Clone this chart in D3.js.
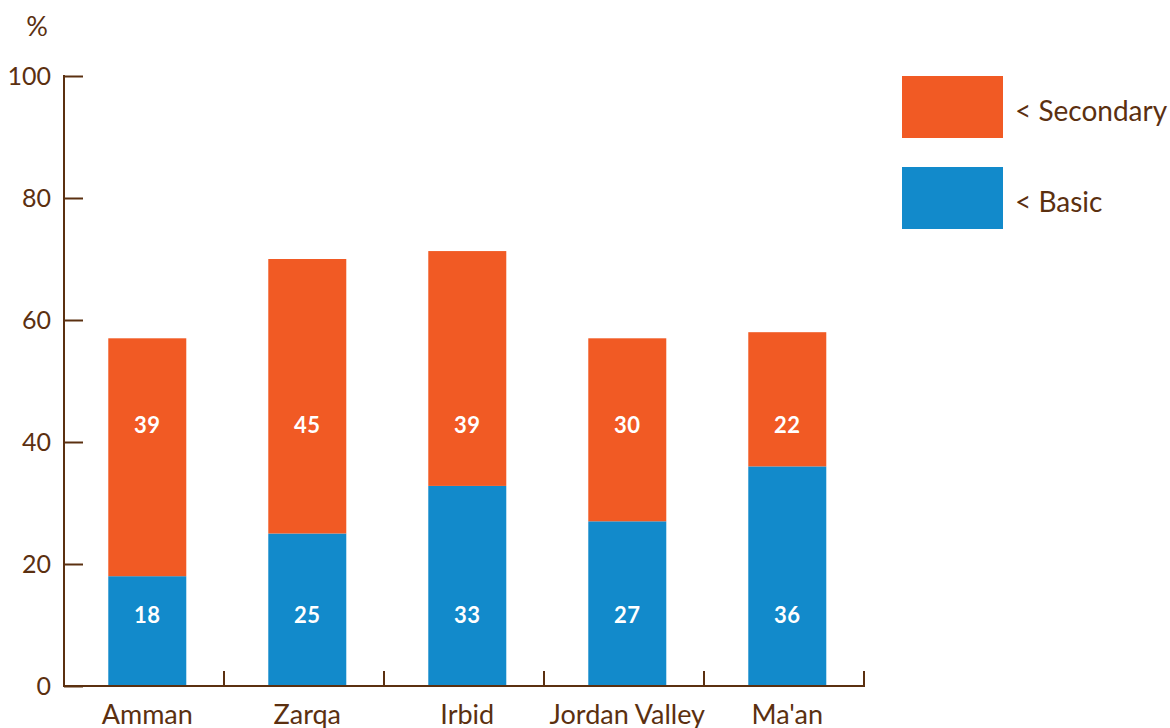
<!DOCTYPE html>
<html>
<head>
<meta charset="utf-8">
<script src="https://cdn.jsdelivr.net/npm/d3@7"></script>
<style>
  body { margin: 0; background: #fff; }
  text { font-family: Lato, "Open Sans", sans-serif; }
</style>
</head>
<body>
<div id="plot"></div>
<script>
var regions = ["Amman", "Zarqa", "Irbid", "Jordan Valley", "Ma'an"];
var basic = [18, 25, 32.8, 27, 36];
var secondary = [39, 45, 38.5, 30, 22];
var yTicks = [0, 20, 40, 60, 80, 100];
var seriesNames = ["< Secondary", "< Basic"];
var colors = {"< Basic": "#128acb", "< Secondary": "#f15a24"};
var ink = "#5b3010";

var width = 1170, height = 728;
var x0 = 64, x1 = 864, yBottom = 686, yTop = 76;

var svg = d3.select("#plot").append("svg")
	.attr("width", width)
	.attr("height", height);

var x = d3.scaleBand()
	.domain(regions)
	.range([x0, x1])
	.paddingInner(0.5125)
	.paddingOuter(0.25625)
	.align(0.54);

var y = d3.scaleLinear()
	.domain([0, 100])
	.range([yBottom, yTop]);

var rows = regions.map(function(r, i) {
	return {region: r, "< Basic": basic[i], "< Secondary": secondary[i]};
});
var stack = d3.stack().keys(["< Basic", "< Secondary"]);
var layers = stack(rows);

svg.append("g")
	.selectAll("g")
	.data(layers)
	.enter().append("g")
	.attr("fill", function(d) { return colors[d.key]; })
	.selectAll("rect")
	.data(function(d) { return d; })
	.enter().append("rect")
	.attr("x", function(d) { return x(d.data.region); })
	.attr("y", function(d) { return y(d[1]); })
	.attr("width", x.bandwidth())
	.attr("height", function(d) { return y(d[0]) - y(d[1]); });

// value labels sit at fixed heights in each segment
var labelLevel = {"< Basic": 11.6, "< Secondary": 42.8};
layers.forEach(function(layer) {
	svg.append("g")
		.selectAll("text")
		.data(layer)
		.enter().append("text")
		.attr("x", function(d) { return x(d.data.region) + x.bandwidth() / 2; })
		.attr("y", y(labelLevel[layer.key]))
		.attr("dy", "0.36em")
		.attr("text-anchor", "middle")
		.attr("fill", "#fff")
		.style("font-size", "22px")
		.style("font-weight", "bold")
		.style("letter-spacing", "0.5px")
		.text(function(d) { return d3.format(".0f")(d[1] - d[0]); });
});

// y axis
var yAxis = svg.append("g")
	.attr("transform", "translate(" + x0 + ",0)")
	.call(d3.axisRight(y).tickValues(yTicks).tickSize(19).tickFormat(""));
yAxis.select(".domain").remove();
yAxis.selectAll("line").attr("stroke", ink).attr("stroke-width", 2);
svg.append("line")
	.attr("x1", x0).attr("x2", x0)
	.attr("y1", yTop - 1).attr("y2", yBottom + 1)
	.attr("stroke", ink).attr("stroke-width", 2);

svg.append("g")
	.selectAll("text")
	.data(yTicks)
	.enter().append("text")
	.attr("x", 51)
	.attr("y", function(d) { return y(d); })
	.attr("dy", "0.35em")
	.attr("text-anchor", "end")
	.attr("fill", ink)
	.style("font-size", "25px")
	.text(function(d) { return d; });

svg.append("text")
	.attr("x", 37)
	.attr("y", 27)
	.attr("dy", "0.35em")
	.attr("text-anchor", "middle")
	.attr("fill", ink)
	.style("font-size", "27px")
	.text("%");

// x axis
svg.append("line")
	.attr("x1", x0 - 1).attr("x2", x1 + 1)
	.attr("y1", yBottom).attr("y2", yBottom)
	.attr("stroke", ink).attr("stroke-width", 2);

var step = x.step();
svg.append("g")
	.selectAll("line")
	.data(regions)
	.enter().append("line")
	.attr("x1", function(d, i) { return x0 + step * (i + 1); })
	.attr("x2", function(d, i) { return x0 + step * (i + 1); })
	.attr("y1", yBottom)
	.attr("y2", yBottom - 15)
	.attr("stroke", ink)
	.attr("stroke-width", 2);

svg.append("g")
	.selectAll("text")
	.data(regions)
	.enter().append("text")
	.attr("x", function(d) { return x(d) + x.bandwidth() / 2; })
	.attr("y", 715)
	.attr("dy", "0.35em")
	.attr("text-anchor", "middle")
	.attr("fill", ink)
	.style("font-size", "27px")
	.text(function(d) { return d; });

// legend
var legend = svg.append("g")
	.selectAll("g")
	.data(seriesNames)
	.enter().append("g")
	.attr("transform", function(d, i) { return "translate(902," + (76 + i * 91) + ")"; });

legend.append("rect")
	.attr("width", 101)
	.attr("height", 62)
	.attr("fill", function(d) { return colors[d]; });

legend.append("text")
	.attr("x", 113)
	.attr("y", 35)
	.attr("dy", "0.35em")
	.attr("fill", ink)
	.style("font-size", "28px")
	.text(function(d) { return d; });
</script>
</body>
</html>
